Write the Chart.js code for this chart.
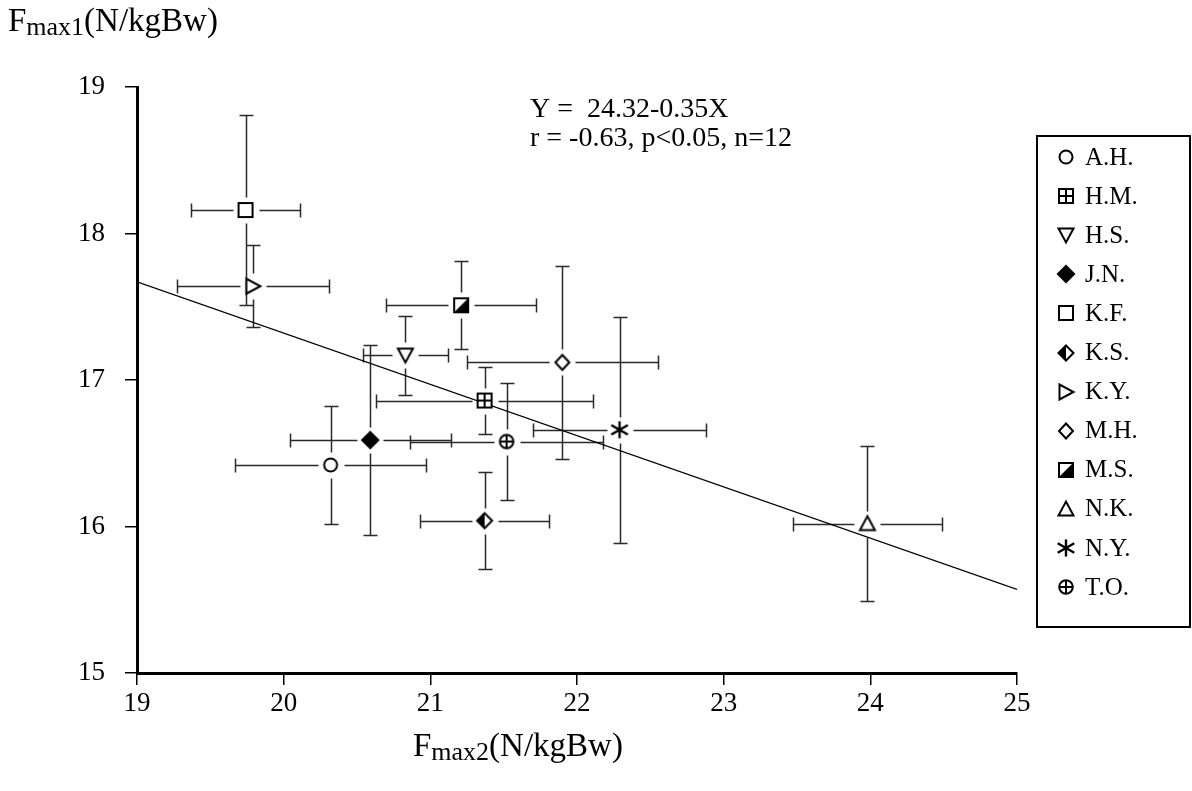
<!DOCTYPE html>
<html>
<head>
<meta charset="utf-8">
<script src="https://cdn.jsdelivr.net/npm/chart.js@4/dist/chart.umd.min.js"></script>
<style>
  body { margin: 0; background: #fff; }
  canvas { display: block; }
</style>
</head>
<body>
<canvas id="myChart" width="1192" height="791"></canvas>
<script>
// subjects and their mean values
var names  = ['A.H.', 'H.M.', 'H.S.', 'J.N.', 'K.F.', 'K.S.', 'K.Y.', 'M.H.', 'M.S.', 'N.K.', 'N.Y.', 'T.O.'];
var fmax2  = [20.32, 21.37, 20.83, 20.59, 19.74, 21.37, 19.79, 21.90, 21.21, 23.98, 22.29, 21.52];
var fmax1  = [16.42, 16.86, 17.17, 16.59, 18.16, 16.04, 17.64, 17.12, 17.51, 16.02, 16.66, 16.58];
// standard deviations
var sd2    = [0.65, 0.74, 0.29, 0.55, 0.37, 0.44, 0.52, 0.65, 0.51, 0.51, 0.59, 0.66];
var sd1    = [0.40, 0.23, 0.27, 0.65, 0.65, 0.33, 0.28, 0.66, 0.30, 0.53, 0.77, 0.40];
var markers = ['circle', 'squarePlus', 'triDown', 'diamondFill', 'square', 'diamondHalf',
               'triRight', 'diamond', 'squareHalf', 'triUp', 'star', 'circlePlus'];

// regression line end points  Y = 24.32 - 0.35X
var regX = [19, 25];
var regY = [17.67, 15.57];

var xTicks = [19, 20, 21, 22, 23, 24, 25];
var yTicks = [15, 16, 17, 18, 19];

var serif = '"Liberation Serif", "Times New Roman", serif';
Chart.defaults.font.family = serif;
Chart.defaults.color = '#000';

function makeMarker(kind) {
  var c = document.createElement('canvas');
  c.width = 26; c.height = 26;
  var g = c.getContext('2d');
  g.translate(13, 13);
  g.lineWidth = 2;
  g.strokeStyle = '#000';
  g.fillStyle = '#fff';
  g.lineJoin = 'miter';
  switch (kind) {
    case 'circle':
      g.beginPath(); g.arc(0, 0, 6.5, 0, Math.PI * 2); g.fill(); g.stroke();
      break;
    case 'circlePlus':
      g.beginPath(); g.arc(0, 0, 6.8, 0, Math.PI * 2); g.fill(); g.stroke();
      g.beginPath(); g.moveTo(-6.8, 0); g.lineTo(6.8, 0); g.moveTo(0, -6.8); g.lineTo(0, 6.8); g.stroke();
      break;
    case 'square':
      g.fillRect(-7, -7, 14, 14); g.strokeRect(-7, -7, 14, 14);
      break;
    case 'squarePlus':
      g.fillRect(-7, -7, 14, 14); g.strokeRect(-7, -7, 14, 14);
      g.beginPath(); g.moveTo(-7, 0); g.lineTo(7, 0); g.moveTo(0, -7); g.lineTo(0, 7); g.stroke();
      break;
    case 'squareHalf':
      g.fillRect(-7, -7, 14, 14);
      g.fillStyle = '#000';
      g.beginPath(); g.moveTo(-7, 7); g.lineTo(7, -7); g.lineTo(7, 7); g.closePath(); g.fill();
      g.strokeRect(-7, -7, 14, 14);
      break;
    case 'diamond':
      g.beginPath(); g.moveTo(0, -7.5); g.lineTo(7, 0); g.lineTo(0, 7.5); g.lineTo(-7, 0); g.closePath();
      g.fill(); g.stroke();
      break;
    case 'diamondFill':
      g.fillStyle = '#000';
      g.beginPath(); g.moveTo(0, -9.5); g.lineTo(9.5, 0); g.lineTo(0, 9.5); g.lineTo(-9.5, 0); g.closePath();
      g.fill();
      break;
    case 'diamondHalf':
      g.beginPath(); g.moveTo(0, -7.5); g.lineTo(7.5, 0); g.lineTo(0, 7.5); g.lineTo(-7.5, 0); g.closePath();
      g.fill();
      g.fillStyle = '#000';
      g.beginPath(); g.moveTo(0, -7.5); g.lineTo(-7.5, 0); g.lineTo(0, 7.5); g.closePath(); g.fill();
      g.beginPath(); g.moveTo(0, -7.5); g.lineTo(7.5, 0); g.lineTo(0, 7.5); g.lineTo(-7.5, 0); g.closePath();
      g.stroke();
      break;
    case 'triDown':
      g.beginPath(); g.moveTo(-7.5, -6.5); g.lineTo(7.5, -6.5); g.lineTo(0, 7.5); g.closePath();
      g.fill(); g.stroke();
      break;
    case 'triUp':
      g.beginPath(); g.moveTo(-7.5, 6.5); g.lineTo(7.5, 6.5); g.lineTo(0, -7.5); g.closePath();
      g.fill(); g.stroke();
      break;
    case 'triRight':
      g.beginPath(); g.moveTo(-6.5, -7.5); g.lineTo(-6.5, 7.5); g.lineTo(7.5, 0); g.closePath();
      g.fill(); g.stroke();
      break;
    case 'star':
      g.lineWidth = 2.4;
      g.beginPath();
      g.moveTo(0, -8.5); g.lineTo(0, 8.5);
      g.moveTo(-8.3, -4.8); g.lineTo(8.3, 4.8);
      g.moveTo(-8.3, 4.8); g.lineTo(8.3, -4.8);
      g.stroke();
      break;
  }
  return c;
}

var markerImgs = markers.map(function(m) { return makeMarker(m); });

var datasets = names.map(function(n, i) {
  return {
    label: n,
    data: [{ x: fmax2[i], y: fmax1[i] }],
    pointStyle: markerImgs[i],
    pointRadius: 8,
    showLine: false
  };
});
datasets.push({
  type: 'line',
  label: 'regression',
  data: regX.map(function(x, i) { return { x: x, y: regY[i] }; }),
  borderColor: '#000',
  borderWidth: 1.3,
  pointRadius: 0,
  fill: false,
  order: 20
});

var errorBars = {
  id: 'errorBars',
  beforeDatasetsDraw: function(chart) {
    var ctx = chart.ctx, xs = chart.scales.x, ys = chart.scales.y;
    var gap = 13, cap = 7;
    ctx.save();
    ctx.strokeStyle = '#2a2a2a';
    ctx.lineWidth = 1.5;
    names.forEach(function(n, i) {
      var px = Math.round(xs.getPixelForValue(fmax2[i])) + 0.5;
      var py = Math.round(ys.getPixelForValue(fmax1[i])) + 0.5;
      var xl = Math.round(xs.getPixelForValue(fmax2[i] - sd2[i])) + 0.5;
      var xr = Math.round(xs.getPixelForValue(fmax2[i] + sd2[i])) + 0.5;
      var yt = Math.round(ys.getPixelForValue(fmax1[i] + sd1[i])) + 0.5;
      var yb = Math.round(ys.getPixelForValue(fmax1[i] - sd1[i])) + 0.5;
      ctx.beginPath();
      ctx.moveTo(xl, py); ctx.lineTo(px - gap, py);
      ctx.moveTo(px + gap, py); ctx.lineTo(xr, py);
      ctx.moveTo(xl, py - cap); ctx.lineTo(xl, py + cap);
      ctx.moveTo(xr, py - cap); ctx.lineTo(xr, py + cap);
      ctx.moveTo(px, yt); ctx.lineTo(px, py - gap);
      ctx.moveTo(px, py + gap); ctx.lineTo(px, yb);
      ctx.moveTo(px - cap, yt); ctx.lineTo(px + cap, yt);
      ctx.moveTo(px - cap, yb); ctx.lineTo(px + cap, yb);
      ctx.stroke();
    });
    ctx.restore();
  }
};

// text with a lowered subscript: F max1 (N/kgBw)
function subText(ctx, x, y, base, sub, rest) {
  ctx.font = '33px ' + serif;
  ctx.fillText(base, x, y);
  x += ctx.measureText(base).width;
  ctx.font = '26px ' + serif;
  ctx.fillText(sub, x, y + 4);
  x += ctx.measureText(sub).width;
  ctx.font = '33px ' + serif;
  ctx.fillText(rest, x, y);
}

var extras = {
  id: 'extras',
  afterDraw: function(chart) {
    var ctx = chart.ctx;
    ctx.save();
    ctx.fillStyle = '#000';
    ctx.textAlign = 'left';
    ctx.textBaseline = 'alphabetic';
    subText(ctx, 8, 31, 'F', 'max1', '(N/kgBw)');
    subText(ctx, 413, 756, 'F', 'max2', '(N/kgBw)');

    ctx.font = '28px ' + serif;
    ctx.fillText('Y =  24.32-0.35X', 530, 117);
    ctx.fillText('r = -0.63, p<0.05, n=12', 530, 146);

    // legend box
    ctx.strokeStyle = '#000';
    ctx.lineWidth = 2;
    ctx.strokeRect(1037, 136, 153, 491);
    ctx.font = '25px ' + serif;
    ctx.textBaseline = 'middle';
    names.forEach(function(n, i) {
      var ly = 157 + i * 39.1;
      var img = markerImgs[i];
      ctx.drawImage(img, 1066 - img.width / 2, Math.round(ly) - img.height / 2);
      ctx.fillText(n, 1085, ly + 1);
    });
    ctx.restore();
  }
};

var ctx = document.getElementById('myChart').getContext('2d');
var chart = new Chart(ctx, {
  type: 'scatter',
  data: { datasets: datasets },
  options: {
    responsive: false,
    animation: false,
    layout: { padding: { left: 0, right: 175, top: 87, bottom: 0 } },
    plugins: {
      legend: { display: false },
      tooltip: { enabled: false }
    },
    scales: {
      x: {
        type: 'linear',
        min: 19, max: 25,
        afterBuildTicks: function(scale) { scale.ticks = xTicks.map(function(v) { return { value: v }; }); },
        afterFit: function(scale) { scale.height = 118; },
        ticks: { font: { size: 27 }, color: '#000', padding: 3 },
        grid: { display: true, drawOnChartArea: false, drawTicks: true, tickLength: 12, color: '#000', lineWidth: 1.5 },
        border: { display: true, color: '#000', width: 3 }
      },
      y: {
        type: 'linear',
        min: 15, max: 19,
        afterBuildTicks: function(scale) { scale.ticks = yTicks.map(function(v) { return { value: v }; }); },
        afterFit: function(scale) { scale.width = 137; },
        ticks: { font: { size: 27 }, color: '#000', padding: 20 },
        grid: { display: true, drawOnChartArea: false, drawTicks: true, tickLength: 12, color: '#000', lineWidth: 1.5 },
        border: { display: true, color: '#000', width: 3 }
      }
    }
  },
  plugins: [errorBars, extras]
});
</script>
</body>
</html>
